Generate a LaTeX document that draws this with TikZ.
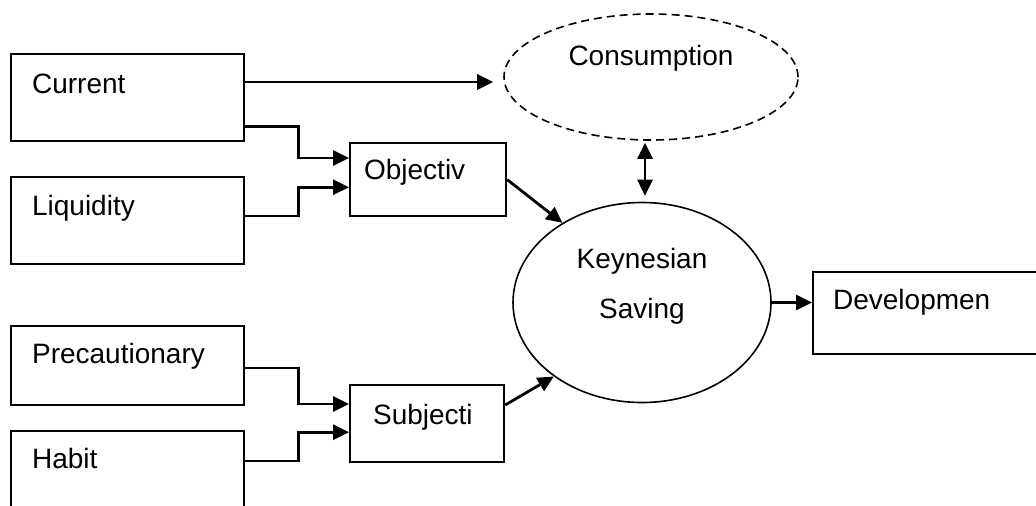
\documentclass[tikz,border=0pt]{standalone}
\usepackage{fontspec}
\setmainfont{Liberation Sans}
\usepackage{tikz}
\usetikzlibrary{arrows.meta,shapes.geometric}

\tikzset{
    box/.style={draw, line width=1.1pt, anchor=north west, align=left, inner ysep=0pt, inner xsep=10.5pt},
    oval/.style={draw, ellipse, line width=0.8pt, inner sep=0pt},
    arr/.style={-{Triangle[length=8pt,width=7.5pt]}, line width=1.4pt},
    dbl/.style={{Triangle[length=8pt,width=7.5pt]}-{Triangle[length=8pt,width=7.5pt]}, line width=1.4pt}
}

\begin{document}
\begin{tikzpicture}[x=0.5pt, y=-0.5pt, every node/.style={font=\fontsize{14}{25}\selectfont}]
    % Page frame
    \clip (0,0) rectangle (1036,505);

    % Left column: motives
    \node[box, text width=95.5pt, text height=19.5pt, text depth=24pt] (cur) at (10,53) {Current};
    \node[box, text width=95.5pt, text height=19pt, text depth=24.5pt] (liq) at (10,176) {Liquidity};
    \node[box, text width=95.5pt, text height=18.5pt, text depth=21pt] (pre) at (10,325) {Precautionary};
    \node[box, text width=95.5pt, text height=18.5pt, text depth=31.5pt] (hab) at (10,430) {Habit};

    % Middle column
    \node[box, inner xsep=7pt, text width=64pt, text height=18pt, text depth=18.5pt] (obj) at (349,142) {Objectiv};
    \node[box, inner xsep=11.5pt, text width=54pt, text height=19.5pt, text depth=19pt] (sub) at (349,384) {Subjecti};

    % Ellipses
    \node[oval, dashed, dash pattern=on 4pt off 2.5pt, minimum width=147pt, minimum height=63pt, text height=6pt, text depth=18pt] (cons) at (651,77) {Consumption};
    \node[oval, minimum width=129pt, minimum height=100pt, align=center, text depth=19pt] (key) at (642,302.5) {Keynesian\\Saving};

    % Right box
    \node[box, inner xsep=10pt, text width=100pt, text height=18.5pt, text depth=22.5pt] (dev) at (812,271) {Developmen};

    % Connectors
    \draw[arr] ([yshift=-14.5pt]cur.north east) -- ([xshift=-5pt,yshift=-2.5pt]cons.west);
    \draw[arr] ([yshift=8pt]cur.south east) -- ++(26.5pt,0) |- ([yshift=-8pt]obj.north west);
    \draw[arr] ([yshift=-20pt]liq.north east) -- ++(26.5pt,0) |- ([yshift=15pt]obj.south west);
    \draw[arr] ([yshift=-21.5pt]pre.north east) -- ++(26.5pt,0) |- ([yshift=-10pt]sub.north west);
    \draw[arr] ([yshift=-15.5pt]hab.north east) -- ++(26.5pt,0) |- ([yshift=15.5pt]sub.south west);
    \draw[arr] (obj.east) -- (key.135);
    \draw[arr] ([yshift=-10.5pt]sub.north east) -- (key.220);
    \draw[dbl] ([xshift=-3pt,yshift=-1pt]cons.south) -- ([xshift=1.5pt,yshift=3pt]key.north);
    \draw[arr] (key.east) -- (key.east -| dev.west);
\end{tikzpicture}
\end{document}
